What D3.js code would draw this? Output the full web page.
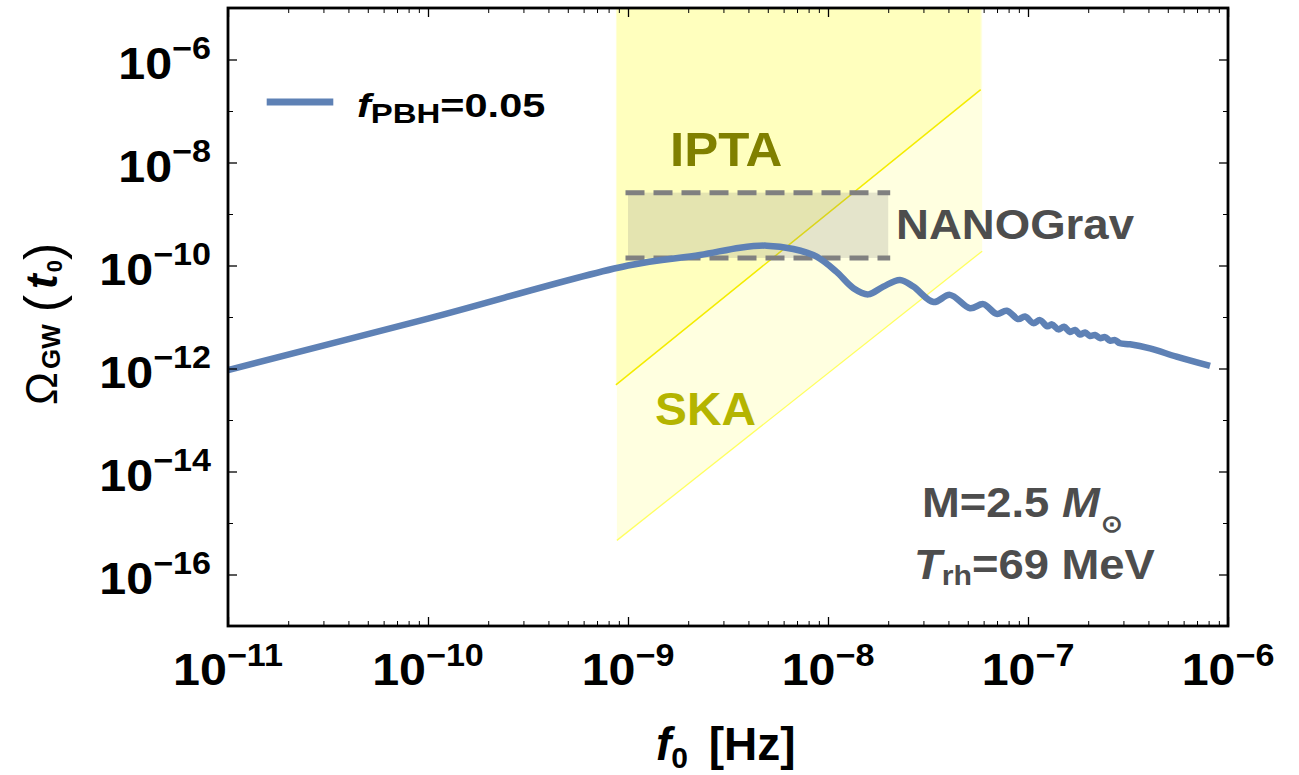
<!DOCTYPE html>
<html><head><meta charset="utf-8">
<script src="https://cdn.jsdelivr.net/npm/d3@7"></script>
<style>
body{margin:0;background:#fff;}
svg{display:block;font-family:"Liberation Sans",Arial,Helvetica,sans-serif;}
</style></head><body>
<svg id="chart" width="1299" height="775"></svg>
<script>
// Present-day GW spectrum for f_PBH = 0.05 (M = 2.5 M_sun, T_rh = 69 MeV)
const freq = [1.0e-11, 1.0e-10, 1.0e-9, 2.29e-9, 3.63e-9, 4.93e-9, 6.71e-9, 8.77e-9, 1.10e-8, 1.34e-8,
  1.59e-8, 1.89e-8, 2.29e-8, 2.67e-8, 3.37e-8, 4.07e-8, 5.13e-8, 5.98e-8, 6.97e-8, 7.83e-8,
  8.95e-8, 9.66e-8, 1.064e-7, 1.148e-7, 1.250e-7, 1.318e-7, 1.419e-7, 1.514e-7, 1.622e-7, 1.718e-7,
  1.820e-7, 1.928e-7, 2.042e-7, 2.163e-7, 2.291e-7, 2.427e-7, 2.570e-7, 2.723e-7, 2.884e-7, 3.236e-7,
  4.07e-7, 5.53e-7, 8.13e-7];
const omega = [9.3e-13, 9.3e-12, 1.0e-10, 1.60e-10, 2.22e-10, 2.43e-10, 2.09e-10, 1.48e-10, 7.6e-11, 3.63e-11,
  2.75e-11, 3.89e-11, 5.25e-11, 3.89e-11, 1.95e-11, 2.69e-11, 1.48e-11, 1.78e-11, 1.15e-11, 1.32e-11,
  9.1e-12, 1.02e-11, 7.6e-12, 8.7e-12, 6.6e-12, 7.2e-12, 5.75e-12, 6.45e-12, 5.13e-12, 5.62e-12,
  4.57e-12, 5.01e-12, 4.27e-12, 4.47e-12, 3.89e-12, 4.07e-12, 3.47e-12, 3.55e-12, 3.09e-12, 2.95e-12,
  2.45e-12, 1.70e-12, 1.12e-12];

// PTA sensitivity regions: lower edge of each band (two end points, power law)
const iptaFreq = [8.7e-10, 5.8e-8];
const iptaOmega = [4.8e-13, 2.6e-7];
const skaFreq = [8.8e-10, 5.9e-8];
const skaOmega = [4.6e-16, 1.9e-10];

// NANOGrav 12.5-yr signal band
const nanoFreq = [1.0e-9, 2.0e-8];
const nanoOmega = [1.4e-10, 2.6e-9];

// axis ticks (powers of ten)
const xTickExp = [-11, -10, -9, -8, -7, -6];
const yTickExp = [-16, -14, -12, -10, -8, -6];
const yMinorExp = [-15, -13, -11, -9, -7];

const P = {left: 228, right: 1228, top: 8, bottom: 626};
const svg = d3.select("#chart");

const x = d3.scaleLog().domain([1e-11, 1e-6]).range([P.left, P.right]);
const y = d3.scaleLog().domain([1e-17, 1e-5]).range([P.bottom, P.top]);
const yTop = y.domain()[1];

svg.append("defs").append("clipPath").attr("id", "plotclip")
  .append("rect").attr("x", P.left).attr("y", P.top)
  .attr("width", P.right - P.left).attr("height", P.bottom - P.top);

const plot = svg.append("g").attr("clip-path", "url(#plotclip)");

// shaded sensitivity regions (SKA underneath, IPTA on top)
function band(fs, os) {
  return [[x(fs[0]), y(yTop)], [x(fs[1]), y(yTop)], [x(fs[1]), y(os[1])], [x(fs[0]), y(os[0])]];
}
plot.append("polygon").attr("points", band(skaFreq, skaOmega).join(" "))
  .attr("fill", "#ffff00").attr("fill-opacity", 0.12);
plot.append("polygon").attr("points", band(iptaFreq, iptaOmega).join(" "))
  .attr("fill", "#ffff00").attr("fill-opacity", 0.15);
plot.append("line")
  .attr("x1", x(skaFreq[0])).attr("y1", y(skaOmega[0]))
  .attr("x2", x(skaFreq[1])).attr("y2", y(skaOmega[1]))
  .attr("stroke", "#ffff60").attr("stroke-width", 1.3);
plot.append("line")
  .attr("x1", x(iptaFreq[0])).attr("y1", y(iptaOmega[0]))
  .attr("x2", x(iptaFreq[1])).attr("y2", y(iptaOmega[1]))
  .attr("stroke", "#f4ec00").attr("stroke-width", 1.5);

// NANOGrav box
plot.append("rect")
  .attr("x", x(nanoFreq[0])).attr("y", y(nanoOmega[1]))
  .attr("width", x(nanoFreq[1]) - x(nanoFreq[0]))
  .attr("height", y(nanoOmega[0]) - y(nanoOmega[1]))
  .attr("fill", "#808080").attr("fill-opacity", 0.21);
nanoOmega.forEach(o => {
  plot.append("line")
    .attr("x1", x(nanoFreq[0]) - 2.5).attr("x2", x(nanoFreq[1]) + 2)
    .attr("y1", y(o)).attr("y2", y(o))
    .attr("stroke", "#808080").attr("stroke-width", 5)
    .attr("stroke-dasharray", "19,9");
});

// spectrum curve
const line = d3.line().curve(d3.curveCatmullRom.alpha(0.5))
  .x((d, i) => x(freq[i])).y((d, i) => y(omega[i]));
plot.append("path").datum(freq).attr("d", line)
  .attr("fill", "none").attr("stroke", "#5e81b5").attr("stroke-width", 6.5)
  .attr("stroke-linejoin", "round");

// ticks on all four sides, pointing inward
const xMajor = xTickExp.map(e => Math.pow(10, e));
const xMinor = [];
xTickExp.slice(0, -1).forEach(e => { for (let k = 2; k <= 9; k++) xMinor.push(k * Math.pow(10, e)); });
const yMajor = yTickExp.map(e => Math.pow(10, e));
const yMinor = yMinorExp.map(e => Math.pow(10, e));

function tickAxis(axisFn, scale, vals, size, transform, width) {
  const g = svg.append("g").attr("transform", transform)
    .call(axisFn(scale).tickValues(vals).tickSize(-size).tickSizeOuter(0).tickFormat(""));
  g.select(".domain").remove();
  g.selectAll(".tick line").attr("stroke", "#000").attr("stroke-width", width);
  g.selectAll(".tick text").remove();
  return g;
}
tickAxis(d3.axisBottom, x, xMajor, 9, `translate(0,${P.bottom})`, 1.3);
tickAxis(d3.axisBottom, x, xMinor, 5, `translate(0,${P.bottom})`, 1);
tickAxis(d3.axisTop, x, xMajor, 9, `translate(0,${P.top})`, 1.3);
tickAxis(d3.axisTop, x, xMinor, 5, `translate(0,${P.top})`, 1);
tickAxis(d3.axisLeft, y, yMajor, 9, `translate(${P.left},0)`, 1.3);
tickAxis(d3.axisLeft, y, yMinor, 5, `translate(${P.left},0)`, 1);
tickAxis(d3.axisRight, y, yMajor, 9, `translate(${P.right},0)`, 1.3);
tickAxis(d3.axisRight, y, yMinor, 5, `translate(${P.right},0)`, 1);

// frame
svg.append("rect").attr("x", P.left).attr("y", P.top)
  .attr("width", P.right - P.left).attr("height", P.bottom - P.top)
  .attr("fill", "none").attr("stroke", "#000").attr("stroke-width", 2.8);

// rich text helper: parts = [{t, size, weight, style, dy, dx}]
function rich(parent, tx, ty, parts, opt) {
  opt = opt || {};
  const t = parent.append("text")
    .attr("transform", `translate(${tx},${ty})` + (opt.rot ? ` rotate(${opt.rot})` : "") + ` scale(${opt.sx || 1},1)`)
    .attr("text-anchor", opt.anchor || "start")
    .attr("fill", opt.fill || "#000");
  parts.forEach(p => {
    t.append("tspan").text(p.t)
      .attr("font-size", p.size)
      .attr("font-weight", p.weight || "bold")
      .attr("font-style", p.style || "normal")
      .attr("dy", p.dy || 0)
      .attr("dx", p.dx || 0);
  });
  return t;
}

// tick labels 10^n
const labels = svg.append("g");
xTickExp.forEach(e => {
  rich(labels, x(Math.pow(10, e)), 685, [
    {t: "10", size: 44},
    {t: "\u2212" + Math.abs(e), size: 31, dy: -19}
  ], {anchor: "middle", sx: 1.1});
});
yTickExp.forEach(e => {
  rich(labels, 211, y(Math.pow(10, e)) + 19, [
    {t: "10", size: 44},
    {t: "\u2212" + Math.abs(e), size: 31, dy: -20}
  ], {anchor: "end", sx: 1.1});
});

// axis titles
rich(svg, 656, 760, [
  {t: "f", size: 46, style: "italic"},
  {t: "0", size: 30, dy: 8},
  {t: "\u00a0[Hz]", size: 46, dy: -8, dx: 8}
]);
rich(svg, 57, 405, [
  {t: "\u03a9", size: 44, weight: "normal"},
  {t: "GW", size: 26, dy: 3, dx: 3},
  {t: "(", size: 52, weight: "normal", dy: 1, dx: 12},
  {t: "t", size: 44, style: "italic", dy: -4, dx: 6},
  {t: "0", size: 22, dy: 5, dx: 2},
  {t: ")", size: 52, weight: "normal", dy: -1, dx: 0}
], {rot: -90});

// legend
svg.append("line").attr("x1", 266.7).attr("x2", 333.3).attr("y1", 102).attr("y2", 102)
  .attr("stroke", "#5e81b5").attr("stroke-width", 7);
rich(svg, 357, 116.7, [
  {t: "f", size: 34, style: "italic"},
  {t: "PBH", size: 27, dy: 6.6},
  {t: "=0.05", size: 34, dy: -6.6}
], {sx: 1.22});

// region labels
rich(svg, 670, 165.7, [{t: "IPTA", size: 49}], {fill: "#808000", sx: 1.04});
rich(svg, 655, 425, [{t: "SKA", size: 46}], {fill: "#b4b400", sx: 1.04});
rich(svg, 896, 239.3, [{t: "NANOGrav", size: 43}], {fill: "#4d4d4d", sx: 1.06});

// parameter annotation
rich(svg, 922, 516.7, [
  {t: "M=2.5\u00a0", size: 42},
  {t: "M", size: 42, style: "italic"},
  {t: "\u2299", size: 24, dy: 15, dx: 1}
], {fill: "#4d4d4d", sx: 1.08});
rich(svg, 914, 579, [
  {t: "T", size: 42, style: "italic"},
  {t: "rh", size: 28, dy: 6},
  {t: "=69 MeV", size: 42, dy: -6}
], {fill: "#4d4d4d", sx: 1.08});
</script>
</body></html>
